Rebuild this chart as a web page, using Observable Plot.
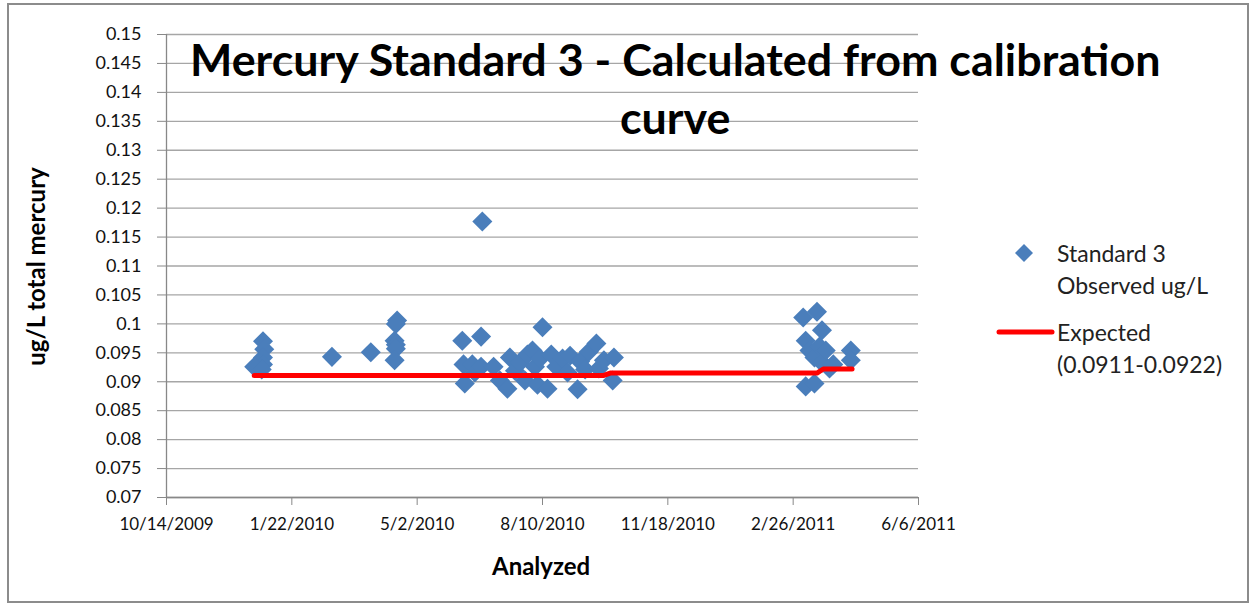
<!DOCTYPE html>
<html>
<head>
<meta charset="utf-8">
<script src="https://cdn.jsdelivr.net/npm/d3@7"></script>
<script src="https://cdn.jsdelivr.net/npm/@observablehq/plot@0.6"></script>
<style>
  html, body { margin: 0; padding: 0; background: #fff; }
  #wrap { position: relative; width: 1254px; height: 607px; overflow: hidden; font-family: Lato, "Open Sans", sans-serif; }
  #frame { position: absolute; left: 7px; top: 3px; width: 1242px; height: 600px; border: 2px solid #8c8c8c; box-sizing: border-box; pointer-events: none; }
  #chart { position: absolute; left: 0; top: 0; }
  .t { position: absolute; white-space: nowrap; color: #000; }
  #title1, #title2 { font-weight: 700; font-size: 44px; line-height: 1; transform-origin: center center; }
  .leg { font-size: 23px; color: #222; line-height: 32px; }
</style>
</head>
<body>
<div id="wrap">
  <div id="chart"></div>
  <div id="frame"></div>
</div>
<script>
// ---- data ----
const xTickDates = ["2009-10-14","2010-01-22","2010-05-02","2010-08-10","2010-11-18","2011-02-26","2011-06-06"];
const xTickLabels = ["10/14/2009","1/22/2010","5/2/2010","8/10/2010","11/18/2010","2/26/2011","6/6/2011"];
const yTicks = [0.07,0.075,0.08,0.085,0.09,0.095,0.1,0.105,0.11,0.115,0.12,0.125,0.13,0.135,0.14,0.145,0.15];
const yTickLabels = ["0.07","0.075","0.08","0.085","0.09","0.095","0.1","0.105","0.11","0.115","0.12","0.125","0.13","0.135","0.14","0.145","0.15"];

const obsDates = [
  "2009-12-30","2009-12-31","2009-12-30","2009-12-30","2009-12-23","2009-12-29",
  "2010-02-23","2010-03-26",
  "2010-04-16","2010-04-15","2010-04-14","2010-04-15","2010-04-15","2010-04-14",
  "2010-06-07","2010-06-22","2010-06-23","2010-06-08","2010-06-15","2010-06-09","2010-06-17","2010-06-22",
  "2010-07-02","2010-07-07","2010-07-13","2010-07-15","2010-07-19","2010-07-23","2010-07-27","2010-07-29",
  "2010-08-02","2010-08-04","2010-08-06","2010-08-08","2010-08-10","2010-08-14","2010-08-17","2010-08-21",
  "2010-08-26","2010-08-30","2010-09-01","2010-09-07","2010-09-09","2010-09-13","2010-09-16","2010-09-22",
  "2010-09-24","2010-09-28","2010-10-05","2010-10-06",
  "2011-03-06","2011-03-17","2011-03-21","2011-03-08","2011-03-11","2011-03-15","2011-03-19","2011-03-21",
  "2011-03-24","2011-03-27","2011-03-08","2011-03-15","2011-04-13","2011-04-13","2011-03-30"
];
const obsValues = [
  0.0970,0.0956,0.0942,0.0930,0.0926,0.0921,
  0.0943,0.0951,
  0.1006,0.1000,0.0971,0.0964,0.0957,0.0937,
  0.0971,0.0978,0.1177,0.0930,0.0930,0.0897,0.0916,0.0926,
  0.0926,0.0902,0.0888,0.0942,0.0919,0.0933,0.0902,0.0947,
  0.0954,0.0926,0.0895,0.0940,0.0994,0.0888,0.0947,0.0926,
  0.0940,0.0916,0.0945,0.0887,0.0935,0.0921,0.0952,0.0966,
  0.0923,0.0937,0.0902,0.0942,
  0.1011,0.1021,0.0989,0.0971,0.0954,0.0942,0.0961,0.0933,
  0.0954,0.0923,0.0892,0.0897,0.0954,0.0937,0.0930
];

const expDates = ["2009-12-23","2010-09-28","2010-10-03","2011-03-17","2011-03-22","2011-04-14"];
const expValues = [0.0911,0.0911,0.0915,0.0915,0.0922,0.0922];

const seriesNames = ["Standard 3", "Observed ug/L", "Expected", "(0.0911-0.0922)"];
const titleLines = ["Mercury Standard 3 - Calculated from calibration", "curve"];
const xLabel = "Analyzed";
const yLabel = "ug/L total mercury";

// ---- build ----
const parse = d3.utcParse("%Y-%m-%d");
const obs = obsDates.map((d, i) => ({date: parse(d), value: obsValues[i]}));
const expd = expDates.map((d, i) => ({date: parse(d), value: expValues[i]}));
const xTicks = xTickDates.map(parse);
const xLab = new Map(xTicks.map((d, i) => [+d, xTickLabels[i]]));
const yLab = new Map(yTicks.map((d, i) => [d, yTickLabels[i]]));

const squareDiamond = {
  draw(ctx, size) {
    const r = Math.sqrt(size / 2);
    ctx.moveTo(0, -r); ctx.lineTo(r, 0); ctx.lineTo(0, r); ctx.lineTo(-r, 0); ctx.closePath();
  }
};

const blue = "#4a7ebb";
const red = "#ff0000";

const plot = Plot.plot({
  width: 1254,
  height: 607,
  marginLeft: 166,
  marginRight: 336,
  marginTop: 34,
  marginBottom: 110,
  style: {fontFamily: "Lato, 'Open Sans', sans-serif", fontSize: "18px", color: "#111", background: "transparent"},
  x: {type: "utc", domain: [xTicks[0], xTicks[xTicks.length - 1]]},
  y: {domain: [0.07, 0.15]},
  marks: [
    Plot.gridY(yTicks, {stroke: "#a6a6a6", strokeOpacity: 1, strokeWidth: 1.3}),
    Plot.axisY(yTicks, {tickSize: 9, tickPadding: 16, stroke: "#888", tickFormat: d => yLab.get(d), label: null, fill: "#111", fontSize: 18}),
    Plot.axisX(xTicks, {tickSize: 8, tickPadding: 12, stroke: "#888", tickFormat: d => xLab.get(+d), label: null, fill: "#111", fontSize: 17}),
    Plot.ruleX([xTicks[0]], {stroke: "#888", strokeWidth: 1.3}),
    Plot.ruleY([0.07], {stroke: "#888", strokeWidth: 1.3}),
    Plot.dot(obs, {x: "date", y: "value", symbol: squareDiamond, r: 8, fill: blue, stroke: "none"}),
    Plot.line(expd, {x: "date", y: "value", stroke: red, strokeWidth: 5, curve: "linear"})
  ]
});
document.getElementById("chart").appendChild(plot);

// ---- text overlays ----
const wrap = document.getElementById("wrap");
function addText(id, txt, cls, css) {
  const el = document.createElement("div");
  if (id) el.id = id;
  el.className = "t " + (cls || "");
  el.textContent = txt;
  Object.assign(el.style, css);
  wrap.appendChild(el);
  return el;
}
const t1 = addText("title1", titleLines[0], "", {});
const t2 = addText("title2", titleLines[1], "", {});
function place(el, cx, cy, targetW) {
  const w = el.offsetWidth, h = el.offsetHeight;
  el.style.left = (cx - w / 2) + "px";
  el.style.top = (cy - h / 2) + "px";
  if (targetW) el.style.transform = `scaleX(${targetW / w})`;
  return w / (targetW || w);
}
const s = place(t1, 675, 59, 970);
place(t2, 675, 117, t2.offsetWidth / s);

const xl = addText(null, xLabel, "", {fontWeight: 700, fontSize: "24px"});
place(xl, 541, 565);
const yl = addText(null, yLabel, "", {fontWeight: 700, fontSize: "24px"});
place(yl, 35, 266);
yl.style.transform = "rotate(-90deg)";

// legend
const leg = document.createElementNS("http://www.w3.org/2000/svg", "svg");
leg.setAttribute("width", 70); leg.setAttribute("height", 120);
Object.assign(leg.style, {position: "absolute", left: "990px", top: "230px"});
leg.innerHTML = `<path d="M34,14 L43,23 L34,32 L25,23 Z" fill="${blue}"/>
  <line x1="9" y1="102" x2="62" y2="102" stroke="${red}" stroke-width="5" stroke-linecap="round"/>`;
wrap.appendChild(leg);
addText(null, seriesNames[0], "leg", {left: "1057px", top: "237px"});
addText(null, seriesNames[1], "leg", {left: "1057px", top: "269px"});
addText(null, seriesNames[2], "leg", {left: "1057px", top: "316px"});
addText(null, seriesNames[3], "leg", {left: "1057px", top: "348px"});
</script>
</body>
</html>
